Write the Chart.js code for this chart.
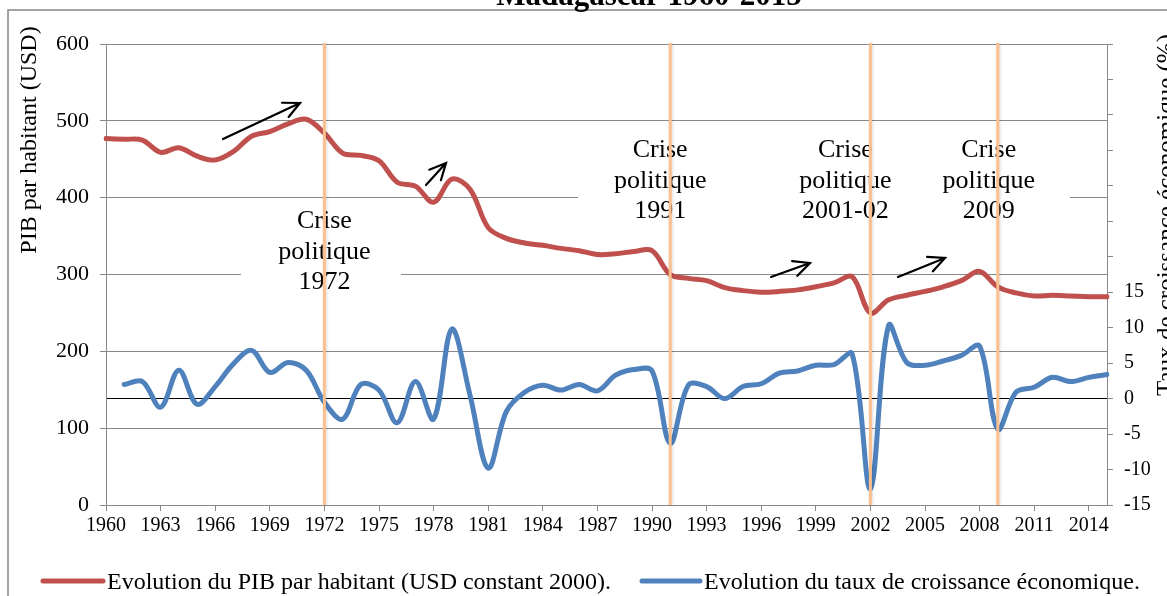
<!DOCTYPE html>
<html>
<head>
<meta charset="utf-8">
<title>Madagascar 1960-2015</title>
<script src="https://cdn.jsdelivr.net/npm/chart.js@4/dist/chart.umd.min.js"></script>
<style>
  html, body { margin: 0; padding: 0; background: #fff; }
  #zone { width: 1167px; height: 596px; }
</style>
</head>
<body>
<div id="zone"><canvas id="grafique" width="1167" height="596"></canvas></div>
<script>
// Données
const annees = ['1960','1961','1962','1963','1964','1965','1966','1967','1968','1969',
                '1970','1971','1972','1973','1974','1975','1976','1977','1978','1979',
                '1980','1981','1982','1983','1984','1985','1986','1987','1988','1989',
                '1990','1991','1992','1993','1994','1995','1996','1997','1998','1999',
                '2000','2001','2002','2003','2004','2005','2006','2007','2008','2009',
                '2010','2011','2012','2013','2014','2015'];
const anneesEtiquetees = ['1960','1963','1966','1969','1972','1975','1978','1981','1984','1987',
                          '1990','1993','1996','1999','2002','2005','2008','2011','2014'];
// PIB par habitant (USD constant 2000)
const pibParHabitant = [477, 476, 475, 459, 465, 454, 449, 460, 480, 486,
                        496, 502, 484, 458, 455, 448, 420, 415, 394, 424,
                        411, 361, 347, 341, 338, 334, 331, 326, 327, 330,
                        331, 300, 295, 292, 283, 279, 277, 278, 280, 284,
                        289, 297, 250, 267, 273, 278, 284, 292, 304, 284,
                        276, 272, 273, 272, 271, 271];
// Taux de croissance économique (%)
const tauxCroissance = [null, 2.0, 2.4, -1.2, 4.0, -0.8, 1.7, 4.9, 6.8, 3.7,
                        5.1, 4.0, -0.5, -2.9, 2.0, 1.2, -3.4, 2.4, -2.9, 9.8,
                        0.5, -9.8, -1.8, 0.9, 1.9, 1.2, 2.0, 1.1, 3.3, 4.1,
                        3.9, -6.3, 1.9, 1.7, 0.0, 1.7, 2.1, 3.6, 3.9, 4.7,
                        4.8, 6.3, -12.7, 10.3, 5.1, 4.7, 5.3, 6.1, 7.4, -4.3,
                        0.9, 1.6, 3.0, 2.4, 3.0, 3.4];
const graduationsTaux = [-15, -10, -5, 0, 5, 10, 15];
const anneesCrises = ['1972', '1991', '2002', '2009'];
const textesCrises = [['Crise', 'politique', '1972'],
                      ['Crise', 'politique', '1991'],
                      ['Crise', 'politique', '2001-02'],
                      ['Crise', 'politique', '2009']];

const ROUGE = '#C0504D';
const BLEU = '#4F81BD';
const ORANGE = '#FAC090';
const GRIS = '#878787';
const POLICE = '"Liberation Serif", "Times New Roman", serif';

// Placement des textes « Crise politique » (décalage / ligne verticale, ligne de base)
const placementTextes = [{ dx: 0, y: 228 }, { dx: -10, y: 157 }, { dx: -25, y: 157 }, { dx: -9, y: 157 }];
// Flèches (pixels) : départ -> pointe
const fleches = [[223, 139, 300, 103], [426, 185, 446, 163], [771, 277, 810, 263], [898, 277, 945, 258]];

const decor = {
    id: 'decor',
    beforeDraw(chart) {
        const ctx = chart.ctx;
        ctx.save();
        ctx.fillStyle = '#fff';
        ctx.fillRect(0, 0, chart.width, chart.height);
        // cadre extérieur
        ctx.strokeStyle = GRIS;
        ctx.lineWidth = 1.5;
        ctx.beginPath();
        ctx.moveTo(8, chart.height);
        ctx.lineTo(8, 10);
        ctx.lineTo(chart.width, 10);
        ctx.stroke();
        // titre (coupé en haut)
        ctx.fillStyle = '#000';
        ctx.font = 'bold 31px ' + POLICE;
        ctx.textAlign = 'center';
        ctx.textBaseline = 'alphabetic';
        ctx.fillText('Madagascar 1960-2015', 649, 5);
        // titres des axes
        ctx.font = '24px ' + POLICE;
        ctx.save();
        ctx.translate(36, 140);
        ctx.rotate(-Math.PI / 2);
        ctx.fillText('PIB par habitant (USD)', 0, 0);
        ctx.restore();
        ctx.font = '25px ' + POLICE;
        ctx.save();
        ctx.translate(1174, 215);
        ctx.rotate(-Math.PI / 2);
        ctx.fillText('Taux de croissance économique (%)', 0, 0);
        ctx.restore();
        ctx.restore();
    },
    beforeDatasetsDraw(chart) {
        // cadres blancs des annotations qui masquent le quadrillage
        const ctx = chart.ctx;
        ctx.save();
        ctx.fillStyle = '#fff';
        ctx.fillRect(241, 200, 160, 95);
        ctx.fillRect(578, 128, 492, 97);
        ctx.restore();
    },
    afterDatasetsDraw(chart) {
        const ctx = chart.ctx;
        const x = chart.scales.x;
        const area = chart.chartArea;
        ctx.save();
        // textes
        ctx.fillStyle = '#000';
        ctx.font = '26px ' + POLICE;
        ctx.textAlign = 'center';
        ctx.textBaseline = 'alphabetic';
        anneesCrises.forEach((a, i) => {
            const px = x.getPixelForValue(annees.indexOf(a)) + placementTextes[i].dx;
            textesCrises[i].forEach((t, j) => ctx.fillText(t, px, placementTextes[i].y + j * 30.5));
        });
        // lignes verticales des crises
        ctx.strokeStyle = ORANGE;
        ctx.lineWidth = 3;
        ctx.shadowColor = 'rgba(0,0,0,0.15)';
        ctx.shadowBlur = 3;
        ctx.shadowOffsetX = 1;
        anneesCrises.forEach(a => {
            const px = x.getPixelForValue(annees.indexOf(a));
            ctx.beginPath();
            ctx.moveTo(px, area.top - 1);
            ctx.lineTo(px, area.bottom);
            ctx.stroke();
        });
        ctx.shadowColor = 'transparent';
        // flèches
        ctx.strokeStyle = '#000';
        ctx.lineWidth = 2.2;
        ctx.lineCap = 'round';
        fleches.forEach(([x0, y0, x1, y1]) => {
            const ang = Math.atan2(y1 - y0, x1 - x0);
            ctx.beginPath();
            ctx.moveTo(x0, y0);
            ctx.lineTo(x1, y1);
            ctx.moveTo(x1 - 18 * Math.cos(ang - 0.45), y1 - 18 * Math.sin(ang - 0.45));
            ctx.lineTo(x1, y1);
            ctx.lineTo(x1 - 18 * Math.cos(ang + 0.45), y1 - 18 * Math.sin(ang + 0.45));
            ctx.stroke();
        });
        ctx.restore();
    },
    afterDraw(chart) {
        // légende
        const ctx = chart.ctx;
        const ds = chart.data.datasets;
        const items = [[43, 103, 107], [642, 700, 704]];
        ctx.save();
        ctx.font = '24px ' + POLICE;
        ctx.textBaseline = 'middle';
        ctx.textAlign = 'left';
        ds.forEach((d, i) => {
            const [a, b, t] = items[i];
            ctx.strokeStyle = d.borderColor;
            ctx.lineWidth = 5;
            ctx.lineCap = 'round';
            ctx.beginPath();
            ctx.moveTo(a, 581);
            ctx.lineTo(b, 581);
            ctx.stroke();
            ctx.fillStyle = '#000';
            ctx.fillText(d.label, t, 583);
        });
        ctx.restore();
    }
};

new Chart(document.getElementById('grafique'), {
    type: 'line',
    data: {
        labels: annees,
        datasets: [{
            label: 'Evolution du PIB par habitant (USD constant 2000).',
            data: pibParHabitant,
            yAxisID: 'y',
            borderColor: ROUGE,
            backgroundColor: ROUGE,
            borderWidth: 5,
            pointRadius: 0,
            tension: 0.35,
            borderCapStyle: 'round',
            borderJoinStyle: 'round'
        }, {
            label: 'Evolution du taux de croissance économique.',
            data: tauxCroissance,
            yAxisID: 'y1',
            borderColor: BLEU,
            backgroundColor: BLEU,
            borderWidth: 5,
            pointRadius: 0,
            tension: 0.35,
            borderCapStyle: 'round',
            borderJoinStyle: 'round'
        }]
    },
    options: {
        responsive: false,
        animation: false,
        devicePixelRatio: 1,
        layout: { padding: { top: 44, left: 0, right: 0, bottom: 51 } },
        plugins: { legend: { display: false }, tooltip: { enabled: false } },
        scales: {
            x: {
                offset: false,
                afterFit: s => { s.height = 40; },
                grid: { drawOnChartArea: false, drawTicks: true, tickLength: 6, color: GRIS },
                border: { color: GRIS, width: 1 },
                ticks: {
                    autoSkip: false,
                    maxRotation: 0,
                    padding: 3,
                    color: '#000',
                    font: { family: POLICE, size: 20 },
                    callback: function (v, i) {
                        return anneesEtiquetees.includes(annees[i]) ? annees[i] : null;
                    }
                }
            },
            y: {
                position: 'left',
                min: 0,
                max: 600,
                afterFit: s => { s.width = 106; },
                grid: { color: GRIS, tickLength: 6 },
                border: { color: GRIS, width: 1 },
                ticks: { stepSize: 100, padding: 11, color: '#000', font: { family: POLICE, size: 22 } }
            },
            y1: {
                position: 'right',
                min: -15,
                max: 50,
                afterFit: s => { s.width = 60; },
                grid: {
                    tickLength: 6,
                    tickColor: GRIS,
                    color: c => (c.tick && c.tick.value === 0) ? '#000' : 'rgba(0,0,0,0)'
                },
                border: { color: GRIS, width: 1 },
                ticks: {
                    stepSize: 5,
                    padding: 11,
                    color: '#000',
                    font: { family: POLICE, size: 20 },
                    callback: v => graduationsTaux.includes(v) ? String(v) : ''
                }
            }
        }
    },
    plugins: [decor]
});
</script>
</body>
</html>
